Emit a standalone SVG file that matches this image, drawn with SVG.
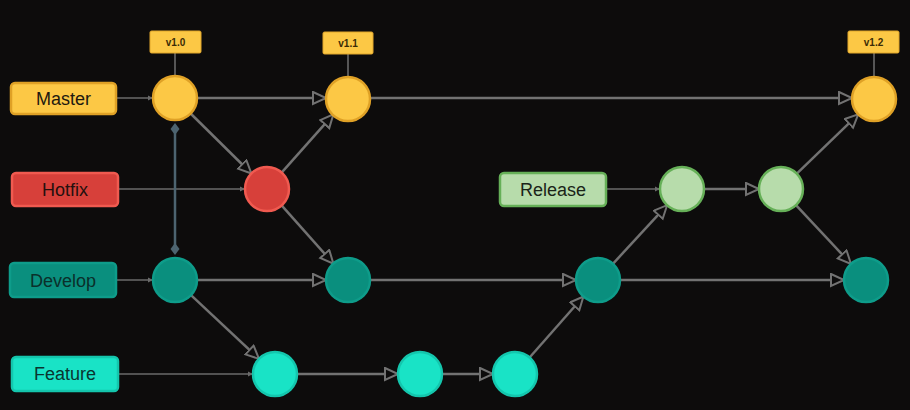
<svg xmlns="http://www.w3.org/2000/svg" width="910" height="410" viewBox="0 0 910 410">
<style>
.bg{fill:#0d0c0c}
.edge{stroke:#727272;stroke-width:2.5;fill:none}
.lab{stroke:#6a6a6a;stroke-width:1.6;fill:none}
.dia{stroke:#4d6470;stroke-width:2.5;fill:none}
.tagline{stroke:#6a6a6a;stroke-width:1.6}
.txt{font-family:"Liberation Sans",Arial,sans-serif;font-size:18px;text-anchor:middle;dominant-baseline:central}
.tagtxt{font-family:"Liberation Sans",Arial,sans-serif;font-size:10px;font-weight:bold;text-anchor:middle;dominant-baseline:central;fill:#3b2c05}
.tag{fill:#fcc845;stroke:#e0a52a;stroke-width:1}
.master{fill:#fcc845;stroke:#dfa126;stroke-width:2.5}
.hotfix{fill:#d7403a;stroke:#f05a50;stroke-width:2.5}
.develop{fill:#0a8f7e;stroke:#0e9c8a;stroke-width:2.5}
.feature{fill:#19e3c6;stroke:#14c6ad;stroke-width:2.5}
.release{fill:#b7dcab;stroke:#66b058;stroke-width:2.5}
</style>
<defs>
<marker id="arr" markerUnits="userSpaceOnUse" markerWidth="18" markerHeight="16" refX="14" refY="7" orient="auto">
<path d="M1,1 L14,7 L1,13 z" fill="#0d0c0c" stroke="#727272" stroke-width="2"/>
</marker>
<marker id="sarr" markerUnits="userSpaceOnUse" markerWidth="8" markerHeight="8" refX="5" refY="3" orient="auto">
<path d="M0,0.5 L5,3 L0,5.5 z" fill="#6a6a6a"/>
</marker>
<marker id="dmd" markerUnits="userSpaceOnUse" markerWidth="14" markerHeight="14" refX="7" refY="7" orient="auto">
<path d="M1,7 L7,2.5 L13,7 L7,11.5 z" fill="#4d6470"/>
</marker>
</defs>
<rect class="bg" x="0" y="0" width="910" height="410"/>
<g id="connectors">
<line class="lab" x1="116" y1="98" x2="153" y2="98" marker-end="url(#sarr)"/>
<line class="lab" x1="118" y1="189" x2="245" y2="189" marker-end="url(#sarr)"/>
<line class="lab" x1="116" y1="280" x2="153" y2="280" marker-end="url(#sarr)"/>
<line class="lab" x1="118" y1="374" x2="253" y2="374" marker-end="url(#sarr)"/>
<line class="lab" x1="606" y1="189" x2="660" y2="189" marker-end="url(#sarr)"/>
<line class="tagline" x1="175" y1="53" x2="175" y2="76"/>
<line class="tagline" x1="348" y1="54" x2="348" y2="77"/>
<line class="tagline" x1="874" y1="53" x2="874" y2="77"/>
<line class="dia" x1="175" y1="129" x2="175" y2="249" marker-start="url(#dmd)" marker-end="url(#dmd)"/>
<line class="edge" x1="197" y1="98" x2="326" y2="98" marker-end="url(#arr)"/>
<line class="edge" x1="370" y1="98" x2="852" y2="98" marker-end="url(#arr)"/>
<line class="edge" x1="190.6" y1="113.5" x2="251.4" y2="173.5" marker-end="url(#arr)"/>
<line class="edge" x1="281.6" y1="172.6" x2="333.4" y2="114.4" marker-end="url(#arr)"/>
<line class="edge" x1="281.6" y1="205.4" x2="333.4" y2="263.6" marker-end="url(#arr)"/>
<line class="edge" x1="197" y1="280" x2="326" y2="280" marker-end="url(#arr)"/>
<line class="edge" x1="370" y1="280" x2="576" y2="280" marker-end="url(#arr)"/>
<line class="edge" x1="620" y1="280" x2="844" y2="280" marker-end="url(#arr)"/>
<line class="edge" x1="191" y1="295.1" x2="259" y2="358.9" marker-end="url(#arr)"/>
<line class="edge" x1="297" y1="374" x2="398" y2="374" marker-end="url(#arr)"/>
<line class="edge" x1="442" y1="374" x2="493" y2="374" marker-end="url(#arr)"/>
<line class="edge" x1="529.6" y1="357.5" x2="583.4" y2="296.5" marker-end="url(#arr)"/>
<line class="edge" x1="612.9" y1="263.8" x2="667.1" y2="205.2" marker-end="url(#arr)"/>
<line class="edge" x1="704" y1="189" x2="759" y2="189" marker-end="url(#arr)"/>
<line class="edge" x1="796.8" y1="173.7" x2="858.2" y2="114.3" marker-end="url(#arr)"/>
<line class="edge" x1="796" y1="205.1" x2="851" y2="263.9" marker-end="url(#arr)"/>
</g>
<g id="label-master"><rect class="master" x="11" y="83" width="105" height="31" rx="4"/><text class="txt" x="63.5" y="99" fill="#1e1a10">Master</text></g>
<g id="label-hotfix"><rect class="hotfix" x="12" y="173" width="106" height="33" rx="4"/><text class="txt" x="65" y="190" fill="#24100e">Hotfix</text></g>
<g id="label-develop"><rect class="develop" x="10" y="263" width="106" height="34" rx="4"/><text class="txt" x="63" y="281" fill="#0a302b">Develop</text></g>
<g id="label-feature"><rect class="feature" x="12" y="357" width="106" height="34" rx="4"/><text class="txt" x="65" y="374" fill="#0a3530">Feature</text></g>
<g id="label-release"><rect class="release" x="500" y="173" width="106" height="33" rx="4"/><text class="txt" x="553" y="190" fill="#1a2418">Release</text></g>
<g id="tag-v10"><rect class="tag" x="150" y="31" width="51" height="22" rx="1.5"/><text class="tagtxt" x="175.5" y="42">v1.0</text></g>
<g id="tag-v11"><rect class="tag" x="323" y="32" width="50" height="22" rx="1.5"/><text class="tagtxt" x="348" y="43">v1.1</text></g>
<g id="tag-v12"><rect class="tag" x="848" y="31" width="51" height="22" rx="1.5"/><text class="tagtxt" x="873.5" y="42">v1.2</text></g>
<g id="m1"><circle class="master" cx="175" cy="98" r="22"/></g>
<g id="m2"><circle class="master" cx="348" cy="99" r="22"/></g>
<g id="m3"><circle class="master" cx="874" cy="99" r="22"/></g>
<g id="h1"><circle class="hotfix" cx="267" cy="189" r="22"/></g>
<g id="r1"><circle class="release" cx="682" cy="189" r="22"/></g>
<g id="r2"><circle class="release" cx="781" cy="189" r="22"/></g>
<g id="d1"><circle class="develop" cx="175" cy="280" r="22"/></g>
<g id="d2"><circle class="develop" cx="348" cy="280" r="22"/></g>
<g id="d3"><circle class="develop" cx="598" cy="280" r="22"/></g>
<g id="d4"><circle class="develop" cx="866" cy="280" r="22"/></g>
<g id="f1"><circle class="feature" cx="275" cy="374" r="22"/></g>
<g id="f2"><circle class="feature" cx="420" cy="374" r="22"/></g>
<g id="f3"><circle class="feature" cx="515" cy="374" r="22"/></g>
</svg>
